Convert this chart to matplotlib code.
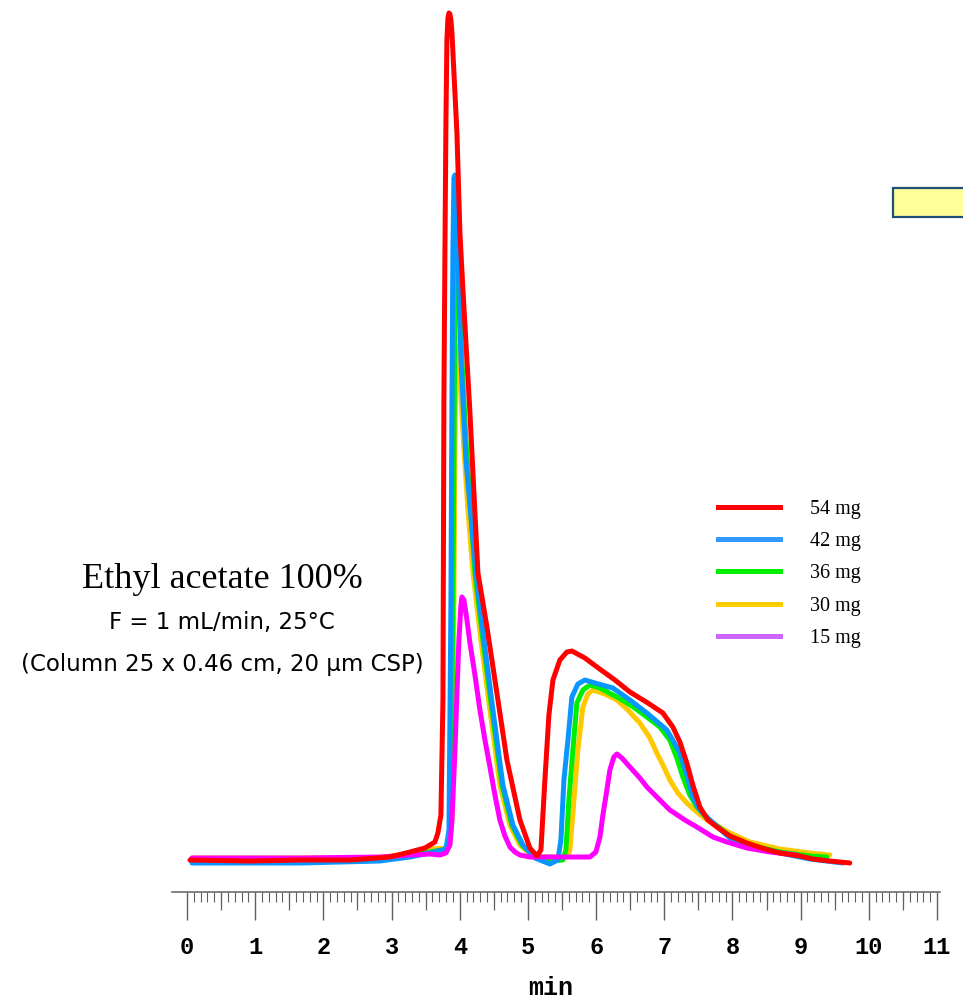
import numpy as np
import matplotlib
matplotlib.use("Agg")
import matplotlib.pyplot as plt
from matplotlib.lines import Line2D
from matplotlib.patches import Rectangle

# =========================
# 1. data (time in min, signal in arbitrary units)
# =========================

t_54 = [0.044, 0.924, 1.657, 2.390, 2.977, 3.270, 3.490, 3.636, 3.680, 3.724, 3.754, 3.768, 3.783, 3.798,
        3.812, 3.827, 3.842, 3.856, 3.871, 3.886, 3.959, 4.003, 4.047, 4.150, 4.267, 4.399, 4.545, 4.692,
        4.883, 5.029, 5.132, 5.191, 5.249, 5.308, 5.367, 5.469, 5.572, 5.645, 5.836, 6.012, 6.276, 6.496,
        6.760, 6.979, 7.126, 7.229, 7.331, 7.419, 7.522, 7.639, 7.771, 7.962, 8.211, 8.475, 8.695, 8.988,
        9.179, 9.428, 9.721]
s_54 = [2, 1, 2, 2, 5, 10, 14, 20, 29, 47, 162, 462, 612, 742,
        822, 844, 849, 848, 842, 829, 729, 629, 572, 449, 289, 235, 169, 102,
        42, 14, 6, 12, 82, 147, 182, 202, 210, 211, 204, 195, 182, 170,
        159, 149, 135, 120, 99, 77, 55, 42, 35, 26, 19, 13, 9, 6,
        3, 1, -1]

t_42 = [0.073, 1.657, 2.830, 3.270, 3.563, 3.798, 3.842, 3.871, 3.886, 3.900, 3.915, 3.930, 3.944, 3.974,
        4.018, 4.091, 4.238, 4.355, 4.487, 4.633, 4.780, 4.927, 5.103, 5.323, 5.440, 5.484, 5.528, 5.587,
        5.645, 5.733, 5.836, 5.982, 6.246, 6.496, 6.745, 7.038, 7.141, 7.229, 7.331, 7.419, 7.522, 7.669,
        7.962, 8.255, 8.695, 9.135, 9.619]
s_42 = [-1, -1, 1, 5, 9, 13, 32, 262, 462, 612, 684, 687, 677, 602,
        502, 402, 289, 222, 152, 77, 37, 17, 4, -2, 2, 22, 82, 122,
        165, 178, 182, 179, 174, 162, 149, 132, 120, 109, 87, 65, 52, 42,
        24, 16, 9, 3, -1]

t_36 = [0.073, 1.657, 2.830, 3.270, 3.563, 3.812, 3.871, 3.900, 3.915, 3.930, 3.944, 3.959, 3.974, 4.003,
        4.032, 4.091, 4.223, 4.340, 4.472, 4.619, 4.765, 4.912, 5.103, 5.323, 5.513, 5.557, 5.601, 5.660,
        5.718, 5.806, 5.909, 6.056, 6.305, 6.525, 6.745, 6.935, 7.082, 7.185, 7.273, 7.375, 7.478, 7.625,
        7.962, 8.255, 8.695, 9.135, 9.384]
s_36 = [0, 0, 2, 6, 10, 13, 32, 262, 412, 542, 600, 602, 592, 552,
        502, 422, 289, 222, 152, 77, 37, 17, 5, 1, 2, 12, 62, 112,
        159, 172, 177, 174, 165, 156, 145, 135, 122, 104, 85, 67, 55, 44,
        26, 17, 10, 6, 5]

t_30 = [0.073, 1.657, 2.830, 3.270, 3.563, 3.827, 3.886, 3.915, 3.930, 3.944, 3.959, 3.974, 4.003, 4.062,
        4.120, 4.194, 4.311, 4.443, 4.589, 4.736, 4.883, 5.073, 5.323, 5.572, 5.616, 5.675, 5.733, 5.806,
        5.880, 5.953, 6.129, 6.305, 6.466, 6.642, 6.789, 6.891, 6.994, 7.082, 7.199, 7.331, 7.478, 7.625,
        7.962, 8.255, 8.695, 9.135, 9.428]
s_30 = [4, 4, 4, 9, 13, 14, 42, 262, 412, 502, 515, 512, 482, 412,
        352, 289, 222, 152, 77, 37, 17, 6, 5, 5, 12, 62, 112, 155,
        168, 172, 168, 162, 152, 139, 124, 109, 95, 82, 69, 59, 50, 42,
        29, 20, 13, 9, 7]

t_15 = [0.073, 1.657, 2.830, 3.270, 3.563, 3.710, 3.798, 3.856, 3.886, 3.930, 3.959, 3.988, 4.018, 4.032,
        4.062, 4.106, 4.150, 4.223, 4.296, 4.370, 4.443, 4.516, 4.589, 4.663, 4.736, 4.809, 4.883, 5.029,
        5.469, 5.909, 5.997, 6.056, 6.100, 6.158, 6.202, 6.261, 6.305, 6.378, 6.496, 6.642, 6.745, 6.935,
        7.082, 7.302, 7.478, 7.713, 7.918, 8.211, 8.548, 8.944]
s_15 = [4, 4, 5, 7, 8, 7, 9, 17, 42, 112, 169, 222, 257, 265,
        262, 242, 219, 187, 152, 122, 95, 67, 42, 26, 15, 10, 7, 5,
        5, 5, 10, 25, 47, 72, 92, 105, 108, 104, 95, 84, 75, 62,
        52, 42, 35, 25, 20, 14, 10, 7]

labels = ["54 mg", "42 mg", "36 mg", "30 mg", "15 mg"]
line_colors = ["#FF0000", "#0A96FF", "#00EE00", "#FFC800", "#FF00FF"]
legend_colors = ["#FF0000", "#3399FF", "#00EE00", "#FFCC00", "#CC66FF"]
x_ticks = list(range(0, 12))

# =========================
# 2. figure / axes
# =========================

fig = plt.figure(figsize=(9.63, 10.01), dpi=100)
ax = fig.add_axes([172 / 963, 109 / 1001, 768 / 963, 892 / 1001])
ax.set_xlim(-0.22, 11.044)
ax.set_ylim(-30, 862)

series = [(t_54, s_54), (t_42, s_42), (t_36, s_36), (t_30, s_30), (t_15, s_15)]
zorders = [6, 4, 3, 2, 5]
for (t, s), c, z in zip(series, line_colors, zorders):
    ax.plot(t, s, color=c, lw=3.6, solid_joinstyle="round", solid_capstyle="round",
            zorder=z, clip_on=False)

for side in ["top", "right", "left"]:
    ax.spines[side].set_visible(False)
ax.spines["bottom"].set_color("#606060")
ax.spines["bottom"].set_linewidth(1.1)
ax.set_yticks([])

ax.set_xticks(x_ticks)
ax.set_xticklabels([str(v) for v in x_ticks], fontfamily="Liberation Mono",
                   fontweight="bold", fontsize=17)
ax.set_xticks(np.arange(0.1, 11.0, 0.1), minor=True)
ax.tick_params(axis="x", which="major", direction="out", length=20, width=1.0,
               color="#606060", pad=12)
ax.tick_params(axis="x", which="minor", direction="out", length=7, width=0.8,
               color="#606060")

# medium ticks at the half minutes
sec = ax.secondary_xaxis("bottom")
sec.set_xticks(np.arange(0.5, 11.0, 1.0))
sec.tick_params(axis="x", length=13, width=0.9, color="#606060", labelbottom=False)
sec.spines["bottom"].set_visible(False)

fig.text(551 / 963, 1 - 988 / 1001, "min", ha="center", va="center",
         fontfamily="Liberation Mono", fontweight="bold", fontsize=18)

# =========================
# 3. annotations
# =========================

fig.text(222 / 963, 1 - 580 / 1001, "Ethyl acetate 100%", ha="center", va="center",
         fontfamily="Liberation Serif", fontsize=26)
fig.text(222 / 963, 1 - 622 / 1001, "F = 1 mL/min, 25°C", ha="center", va="center",
         fontfamily="DejaVu Sans", fontsize=16.5)
fig.text(222 / 963, 1 - 665 / 1001, "(Column 25 x 0.46 cm, 20 µm CSP)", ha="center",
         va="center", fontfamily="DejaVu Sans", fontsize=16.5)

fig.patches.append(Rectangle((893 / 963, 1 - 217 / 1001), 90 / 963, 29 / 1001,
                             facecolor="#FFFF99", edgecolor="#1F4E79", lw=1.6,
                             transform=fig.transFigure, figure=fig))

handles = [Line2D([], [], color=c, lw=3.6) for c in legend_colors]
ax.legend(handles, labels, loc="upper left", bbox_to_anchor=(718 / 963, 1 - 500 / 1001),
          bbox_transform=fig.transFigure, frameon=False, borderpad=0, borderaxespad=0,
          handlelength=3.1, handletextpad=1.45, labelspacing=0.65,
          prop={"family": "Liberation Serif", "size": 14.5})

plt.savefig("out.png", dpi=100)
plt.close()
